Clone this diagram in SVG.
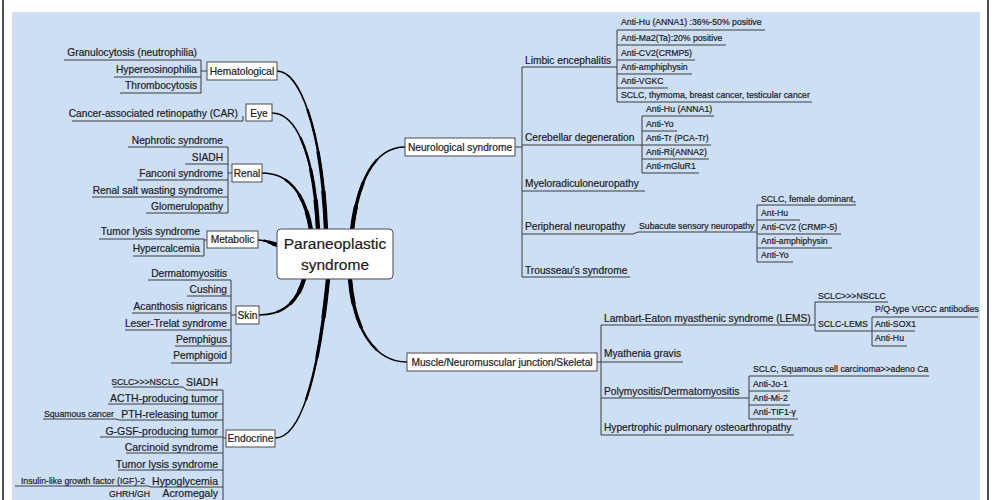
<svg xmlns="http://www.w3.org/2000/svg" width="995" height="500" viewBox="0 0 995 500">
<style>
text{font-family:"Liberation Sans",Arial,sans-serif;fill:#1c1c1c;stroke:#1c1c1c;stroke-width:0.2}
.t{font-size:10.2px}
.s{font-size:8.7px}
.e{font-size:10.5px}
.c{font-size:15.5px;text-anchor:middle}
.r{text-anchor:end}
.m{text-anchor:middle}
.ln{fill:none;stroke:#3a3a3a;stroke-width:1}
.box{fill:#fff;stroke:#4a4a4a;stroke-width:1}
.k{fill:none;stroke:#000;stroke-linecap:round}
.k1{stroke-width:1.6;stroke-linecap:butt}
.k2{stroke-width:2.4;stroke-dasharray:70 200}
.k3{stroke-width:3.3;stroke-dasharray:45 200}
.k4{stroke-width:4.3;stroke-dasharray:22 200}
</style>
<rect x="0" y="0" width="995" height="500" fill="#fff"/>
<line x1="3" y1="0" x2="3" y2="500" stroke="#111" stroke-width="1.5"/>
<line x1="988" y1="0" x2="988" y2="500" stroke="#111" stroke-width="1.5"/>
<rect x="12" y="12" width="968" height="488" fill="#cddff5"/>

<g id="connectors">
  <g id="main-branches">
    <path class="k k1" d="M326,230 C322,130 300,71 277,71"/>
    <path class="k k2" pathLength="100" d="M326,230 C322,130 300,71 277,71"/>
    <path class="k k3" pathLength="100" d="M326,230 C322,130 300,71 277,71"/>
    <path class="k k4" pathLength="100" d="M326,230 C322,130 300,71 277,71"/>
    <path class="k k1" d="M318,230 C314,150 295,113 272,113"/>
    <path class="k k2" pathLength="100" d="M318,230 C314,150 295,113 272,113"/>
    <path class="k k3" pathLength="100" d="M318,230 C314,150 295,113 272,113"/>
    <path class="k k4" pathLength="100" d="M318,230 C314,150 295,113 272,113"/>
    <path class="k k1" d="M311,230 C305,195 290,173 262,173"/>
    <path class="k k2" pathLength="100" d="M311,230 C305,195 290,173 262,173"/>
    <path class="k k3" pathLength="100" d="M311,230 C305,195 290,173 262,173"/>
    <path class="k k4" pathLength="100" d="M311,230 C305,195 290,173 262,173"/>
    <path class="k k1" d="M278,245 C270,243 266,240 258,240"/>
    <path class="k k2" pathLength="100" d="M278,245 C270,243 266,240 258,240"/>
    <path class="k k3" pathLength="100" d="M278,245 C270,243 266,240 258,240"/>
    <path class="k k4" pathLength="100" d="M278,245 C270,243 266,240 258,240"/>
    <path class="k k1" d="M304,279 C298,300 285,315 259,315"/>
    <path class="k k2" pathLength="100" d="M304,279 C298,300 285,315 259,315"/>
    <path class="k k3" pathLength="100" d="M304,279 C298,300 285,315 259,315"/>
    <path class="k k4" pathLength="100" d="M304,279 C298,300 285,315 259,315"/>
    <path class="k k1" d="M328,279 C318,380 300,438 275,438"/>
    <path class="k k2" pathLength="100" d="M328,279 C318,380 300,438 275,438"/>
    <path class="k k3" pathLength="100" d="M328,279 C318,380 300,438 275,438"/>
    <path class="k k4" pathLength="100" d="M328,279 C318,380 300,438 275,438"/>
    <path class="k k1" d="M350,279 C354,330 375,362 407,362"/>
    <path class="k k2" pathLength="100" d="M350,279 C354,330 375,362 407,362"/>
    <path class="k k3" pathLength="100" d="M350,279 C354,330 375,362 407,362"/>
    <path class="k k4" pathLength="100" d="M350,279 C354,330 375,362 407,362"/>
    <path class="k k1" d="M352,230 C358,180 375,147 405,147"/>
    <path class="k k2" pathLength="100" d="M352,230 C358,180 375,147 405,147"/>
    <path class="k k3" pathLength="100" d="M352,230 C358,180 375,147 405,147"/>
    <path class="k k4" pathLength="100" d="M352,230 C358,180 375,147 405,147"/>
  </g>
  <g id="left-lines" class="ln">
    <path d="M64,60 H201 M114,77 H201 M120,93 H201 M201,60 V93 M201,71 H207"/>
    <path d="M72,121 H243 V116"/>
    <path d="M128,147 H228 M185,164 H228 M137,180 H228 M92,197 H228 M146,213 H228 M228,147 V213 M228,173 H232"/>
    <path d="M99,239 H204 M133,256 H204 M204,239 V256 M204,240 H207"/>
    <path d="M148,280 H231 M187,296 H231 M132,313 H231 M125,330 H231 M175,346 H231 M171,363 H231 M231,280 V363 M231,315 H236"/>
    <path d="M113,387 H183 L187,390 H223 M108,404 H223 M43,419 H116 L119,420 H223 M100,437 H223 M126,453 H223 M118,470 H223 M15,486 H148 L151,487 H223 M223,390 V505 M223,438 H226"/>
  </g>
  <g id="right-lines" class="ln">
    <path d="M515,147 H522 M522,67 V277"/>
    <path d="M522,67 H617 M617,30 V102 M617,30 H765 M617,45 H726 M617,60 H695 M617,74 H692 M617,88 H668 M617,102 H812"/>
    <path d="M522,145 H642 M642,116 V173 M642,116 H714 M642,131 H677 M642,145 H711 M642,159 H709 M642,173 H699"/>
    <path d="M522,191 H645"/>
    <path d="M522,234 H633 L638,232 H757 M757,205 V262 M757,205 H856 M757,220 H800 M757,234 H841 M757,248 H832 M757,262 H793"/>
    <path d="M522,277 H630"/>
    <path d="M597,362 H601 M601,325 V435"/>
    <path d="M601,325 H815 M815,302 V331 M815,302 H888 M815,331 H915 M872,317 V346 M872,317 H978 M872,346 H907"/>
    <path d="M601,362 H683"/>
    <path d="M601,398 H749 M749,376 V419 M749,376 H929 M749,391 H790 M749,405 H790 M749,419 H798"/>
    <path d="M601,435 H794"/>
  </g>
</g>

<g id="center">
  <rect class="box" x="277" y="229" width="116" height="50" rx="4"/>
  <text class="c" x="335" y="249">Paraneoplastic</text>
  <text class="c" x="335" y="270">syndrome</text>
</g>

<g id="hematological">
  <rect class="box" x="207" y="62" width="70" height="18"/>
  <text class="t m" x="242" y="74.5">Hematological</text>
  <g id="granulocytosis"><text class="t r" x="197" y="55.5">Granulocytosis (neutrophilia)</text></g>
  <g id="hypereosinophilia"><text class="t r" x="197" y="72.5">Hypereosinophilia</text></g>
  <g id="thrombocytosis"><text class="t r" x="197" y="88.5">Thrombocytosis</text></g>
</g>

<g id="eye">
  <rect class="box" x="246" y="104" width="26" height="17"/>
  <text class="t m" x="259" y="116.5">Eye</text>
  <g id="car"><text class="t r" x="238" y="116.5">Cancer-associated retinopathy (CAR)</text></g>
</g>

<g id="renal">
  <rect class="box" x="232" y="164" width="30" height="18"/>
  <text class="t m" x="247" y="176.5">Renal</text>
  <g id="nephrotic"><text class="t r" x="223" y="143.5">Nephrotic syndrome</text></g>
  <g id="siadh-renal"><text class="t r" x="223" y="160.5">SIADH</text></g>
  <g id="fanconi"><text class="t r" x="223" y="176.5">Fanconi syndrome</text></g>
  <g id="salt-wasting"><text class="t r" x="223" y="193.5">Renal salt wasting syndrome</text></g>
  <g id="glomerulopathy"><text class="t r" x="223" y="209.5">Glomerulopathy</text></g>
</g>

<g id="metabolic">
  <rect class="box" x="207" y="231" width="51" height="17"/>
  <text class="t m" x="232.5" y="243">Metabolic</text>
  <g id="tls-metabolic"><text class="t r" x="200" y="234.5">Tumor lysis syndrome</text></g>
  <g id="hypercalcemia"><text class="t r" x="200" y="251.5">Hypercalcemia</text></g>
</g>

<g id="skin">
  <rect class="box" x="236" y="306" width="23" height="18"/>
  <text class="t m" x="247.5" y="318.5">Skin</text>
  <g id="dermatomyositis"><text class="t r" x="227" y="276.5">Dermatomyositis</text></g>
  <g id="cushing"><text class="t r" x="227" y="292.5">Cushing</text></g>
  <g id="acanthosis"><text class="t r" x="227" y="309.5">Acanthosis nigricans</text></g>
  <g id="leser-trelat"><text class="t r" x="227" y="326.5">Leser-Trelat syndrome</text></g>
  <g id="pemphigus"><text class="t r" x="227" y="342.5">Pemphigus</text></g>
  <g id="pemphigoid"><text class="t r" x="227" y="358.5">Pemphigoid</text></g>
</g>

<g id="endocrine">
  <rect class="box" x="226" y="430" width="49" height="17"/>
  <text class="t m" x="250.5" y="442">Endocrine</text>
  <g id="siadh-endo"><text class="e r" x="218" y="385.7">SIADH</text><text class="s r" x="179" y="385">SCLC&gt;&gt;&gt;NSCLC</text></g>
  <g id="acth"><text class="e r" x="218" y="401.7">ACTH-producing tumor</text></g>
  <g id="pth"><text class="e r" x="218" y="417.7">PTH-releasing tumor</text><text class="s r" x="114" y="417">Squamous cancer</text></g>
  <g id="ggsf"><text class="e r" x="218" y="434.7">G-GSF-producing tumor</text></g>
  <g id="carcinoid"><text class="e r" x="218" y="450.7">Carcinoid syndrome</text></g>
  <g id="tls-endo"><text class="e r" x="218" y="467.7">Tumor lysis syndrome</text></g>
  <g id="hypoglycemia"><text class="e r" x="218" y="484.7">Hypoglycemia</text><text class="s r" x="145" y="484">Insulin-like growth factor (IGF)-2</text></g>
  <g id="acromegaly"><text class="e r" x="218" y="497">Acromegaly</text><text class="s r" x="150" y="497">GHRH/GH</text></g>
</g>

<g id="neurological">
  <rect class="box" x="405" y="138" width="110" height="18"/>
  <text class="t m" x="460" y="150.5">Neurological syndrome</text>
  <g id="limbic">
    <text class="t" x="525" y="63.5">Limbic encephalitis</text>
    <text class="s" x="621" y="25">Anti-Hu (ANNA1) :36%-50% positive</text>
    <text class="s" x="621" y="41">Anti-Ma2(Ta):20% positive</text>
    <text class="s" x="621" y="56">Anti-CV2(CRMP5)</text>
    <text class="s" x="621" y="70">Anti-amphiphysin</text>
    <text class="s" x="621" y="84">Anti-VGKC</text>
    <text class="s" x="621" y="98">SCLC, thymoma, breast cancer, testicular cancer</text>
  </g>
  <g id="cerebellar">
    <text class="t" x="525" y="140.5">Cerebellar degeneration</text>
    <text class="s" x="646" y="112">Anti-Hu (ANNA1)</text>
    <text class="s" x="646" y="127">Anti-Yo</text>
    <text class="s" x="646" y="141">Anti-Tr (PCA-Tr)</text>
    <text class="s" x="646" y="155">Anti-Ri(ANNA2)</text>
    <text class="s" x="646" y="169">Anti-mGluR1</text>
  </g>
  <g id="myelo"><text class="t" x="525" y="186.5">Myeloradiculoneuropathy</text></g>
  <g id="peripheral">
    <text class="t" x="525" y="229.5">Peripheral neuropathy</text>
    <text class="s" x="639" y="229">Subacute sensory neuropathy</text>
    <text class="s" x="761" y="202">SCLC, female dominant,</text>
    <text class="s" x="761" y="216">Ant-Hu</text>
    <text class="s" x="761" y="230">Anti-CV2 (CRMP-5)</text>
    <text class="s" x="761" y="244">Anti-amphiphysin</text>
    <text class="s" x="761" y="258">Anti-Yo</text>
  </g>
  <g id="trousseau"><text class="t" x="525" y="273.5">Trousseau's syndrome</text></g>
</g>

<g id="muscle">
  <rect class="box" x="407" y="353" width="190" height="18"/>
  <text class="t m" x="502" y="365.5">Muscle/Neuromuscular junction/Skeletal</text>
  <g id="lems">
    <text class="t" x="604" y="321.5">Lambart-Eaton myasthenic syndrome (LEMS)</text>
    <text class="s" x="818" y="299">SCLC&gt;&gt;&gt;NSCLC</text>
    <text class="s" x="818" y="327">SCLC-LEMS</text>
    <text class="s" x="875" y="312">P/Q-type VGCC antibodies</text>
    <text class="s" x="875" y="327">Anti-SOX1</text>
    <text class="s" x="875" y="341">Anti-Hu</text>
  </g>
  <g id="mg"><text class="t" x="604" y="356.5">Myathenia gravis</text></g>
  <g id="polymyositis">
    <text class="t" x="604" y="394.5">Polymyositis/Dermatomyositis</text>
    <text class="s" x="753" y="372">SCLC, Squamous cell carcinoma&gt;&gt;adeno Ca</text>
    <text class="s" x="753" y="387">Anti-Jo-1</text>
    <text class="s" x="753" y="401">Anti-Mi-2</text>
    <text class="s" x="753" y="415">Anti-TIF1-γ</text>
  </g>
  <g id="hpoa"><text class="t" x="604" y="430.5">Hypertrophic pulmonary osteoarthropathy</text></g>
</g>
</svg>
